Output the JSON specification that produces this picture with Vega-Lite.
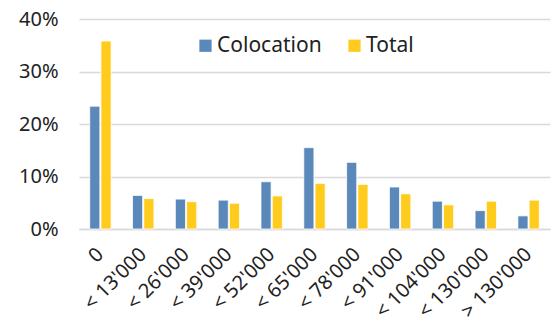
{
  "$schema": "https://vega.github.io/schema/vega-lite/v6.json",
  "width": 471,
  "height": 210,
  "autosize": {"type": "none"},
  "padding": {"left": 79, "top": 19, "right": 3, "bottom": 100},
  "background": "white",
  "config": {
    "view": {"stroke": null},
    "font": "Noto Sans",
    "axis": {"labelFont": "Noto Sans", "labelColor": "#222222", "labelFontSize": 20}
  },
  "data": {
    "values": [
      {"cat": "0", "series": "Colocation", "value": 0.234},
      {"cat": "0", "series": "Total", "value": 0.358},
      {"cat": "< 13'000", "series": "Colocation", "value": 0.064},
      {"cat": "< 13'000", "series": "Total", "value": 0.058},
      {"cat": "< 26'000", "series": "Colocation", "value": 0.057},
      {"cat": "< 26'000", "series": "Total", "value": 0.052},
      {"cat": "< 39'000", "series": "Colocation", "value": 0.055},
      {"cat": "< 39'000", "series": "Total", "value": 0.049},
      {"cat": "< 52'000", "series": "Colocation", "value": 0.090},
      {"cat": "< 52'000", "series": "Total", "value": 0.063},
      {"cat": "< 65'000", "series": "Colocation", "value": 0.155},
      {"cat": "< 65'000", "series": "Total", "value": 0.087},
      {"cat": "< 78'000", "series": "Colocation", "value": 0.127},
      {"cat": "< 78'000", "series": "Total", "value": 0.085},
      {"cat": "< 91'000", "series": "Colocation", "value": 0.080},
      {"cat": "< 91'000", "series": "Total", "value": 0.067},
      {"cat": "< 104'000", "series": "Colocation", "value": 0.053},
      {"cat": "< 104'000", "series": "Total", "value": 0.046},
      {"cat": "< 130'000", "series": "Colocation", "value": 0.035},
      {"cat": "< 130'000", "series": "Total", "value": 0.053},
      {"cat": "> 130'000", "series": "Colocation", "value": 0.025},
      {"cat": "> 130'000", "series": "Total", "value": 0.055}
    ]
  },
  "mark": {"type": "bar", "stroke": "white", "strokeWidth": 0.8},
  "encoding": {
    "x": {
      "field": "cat",
      "type": "nominal",
      "sort": null,
      "title": null,
      "scale": {"paddingInner": 0.5, "paddingOuter": 0.25},
      "axis": {
        "labelAngle": -45,
        "labelAlign": "right",
        "labelBaseline": "middle",
        "ticks": false,
        "domain": true,
        "domainColor": "#d9d9d9",
        "domainWidth": 1.5,
        "labelPadding": 22
      }
    },
    "xOffset": {"field": "series", "type": "nominal", "scale": {"paddingInner": 0.1}},
    "y": {
      "field": "value",
      "type": "quantitative",
      "title": null,
      "scale": {"domain": [0, 0.4]},
      "axis": {
        "format": ".0%",
        "values": [0, 0.1, 0.2, 0.3, 0.4],
        "domain": false,
        "ticks": false,
        "labelPadding": 21,
        "gridColor": "#d9d9d9",
        "gridWidth": 1.5
      }
    },
    "color": {
      "field": "series",
      "type": "nominal",
      "scale": {"domain": ["Colocation", "Total"], "range": ["#5b88ba", "#ffcb1c"]},
      "legend": {
        "title": null,
        "orient": "none",
        "direction": "horizontal",
        "legendX": 116,
        "legendY": 16,
        "symbolType": "square",
        "symbolSize": 150,
        "symbolStrokeWidth": 0,
        "labelFontSize": 21,
        "labelFont": "Noto Sans",
        "labelColor": "#222222",
        "columnPadding": 22,
        "labelOffset": 1,
        "fillColor": "white"
      }
    }
  }
}
